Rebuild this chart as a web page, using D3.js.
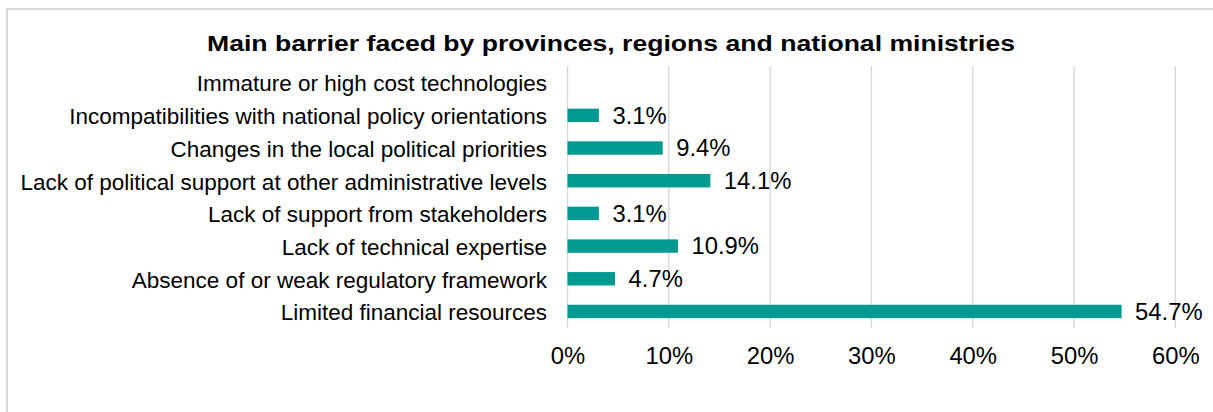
<!DOCTYPE html>
<html>
<head>
<meta charset="utf-8">
<script src="https://cdn.jsdelivr.net/npm/d3@7"></script>
<style>
  html, body { margin: 0; padding: 0; background: #fff; }
  svg { display: block; }
  text { font-family: "Liberation Sans", Arial, sans-serif; }
</style>
</head>
<body>
<svg id="chart" width="1213" height="412"></svg>
<script>
// Barrier categories, listed top to bottom
const categories = [
  "Immature or high cost technologies",
  "Incompatibilities with national policy orientations",
  "Changes in the local political priorities",
  "Lack of political support at other administrative levels",
  "Lack of support from stakeholders",
  "Lack of technical expertise",
  "Absence of or weak regulatory framework",
  "Limited financial resources"
];
// Share of respondents (%)
const values = [0, 3.1, 9.4, 14.1, 3.1, 10.9, 4.7, 54.7];
// X axis ticks (%)
const ticks = [0, 10, 20, 30, 40, 50, 60];
const titleText = "Main barrier faced by provinces, regions and national ministries";

const svg = d3.select("#chart");

// Chart frame
svg.append("rect")
  .attr("x", 7).attr("y", 9)
  .attr("width", 1400).attr("height", 600)
  .attr("fill", "#fff")
  .attr("stroke", "#d9d9d9").attr("stroke-width", 2);

const x = d3.scaleLinear().domain([0, 60]).range([567.5, 1175.3]);
const y = d3.scaleBand().domain(categories)
  .range([66.3, 327.8]).paddingInner(0.59).paddingOuter(0.295);

// Vertical gridlines
svg.append("g").selectAll("line").data(ticks).join("line")
  .attr("x1", d => x(d)).attr("x2", d => x(d))
  .attr("y1", y.range()[0]).attr("y2", y.range()[1])
  .attr("stroke", "#d9d9d9").attr("stroke-width", 1.5);

// Title
svg.append("text")
  .attr("x", 611).attr("y", 51)
  .attr("text-anchor", "middle")
  .attr("font-size", 22).attr("font-weight", "bold")
  .attr("fill", "#000")
  .attr("textLength", 808).attr("lengthAdjust", "spacingAndGlyphs")
  .text(titleText);

// Bars
svg.append("g").selectAll("rect").data(values).join("rect")
  .attr("x", x(0))
  .attr("y", (d, i) => y(categories[i]))
  .attr("width", d => x(d) - x(0))
  .attr("height", y.bandwidth())
  .attr("fill", "#009a93");

// Category labels
svg.append("g").selectAll("text").data(categories).join("text")
  .attr("x", 547)
  .attr("y", d => y(d) + y.bandwidth() / 2 + 8.8)
  .attr("text-anchor", "end")
  .attr("font-size", 22.5)
  .attr("fill", "#000")
  .text(d => d);

// Value labels
svg.append("g").selectAll("text").data(values).join("text")
  .attr("x", d => x(d) + 13.5)
  .attr("y", (d, i) => y(categories[i]) + y.bandwidth() / 2 + 8.2)
  .attr("font-size", 23.8)
  .attr("fill", "#000")
  .text(d => d > 0 ? d.toFixed(1) + "%" : "");

// X axis tick labels
const xAxis = d3.axisBottom(x).tickValues(ticks)
  .tickFormat(d => d + "%").tickSize(0).tickPadding(0);
const gx = svg.append("g")
  .attr("transform", "translate(0,364)")
  .call(xAxis);
gx.select(".domain").remove();
gx.selectAll("text")
  .attr("y", 0).attr("dy", 0)
  .attr("font-size", 23.8)
  .attr("font-family", "Liberation Sans, Arial, sans-serif")
  .attr("fill", "#000");
</script>
</body>
</html>
